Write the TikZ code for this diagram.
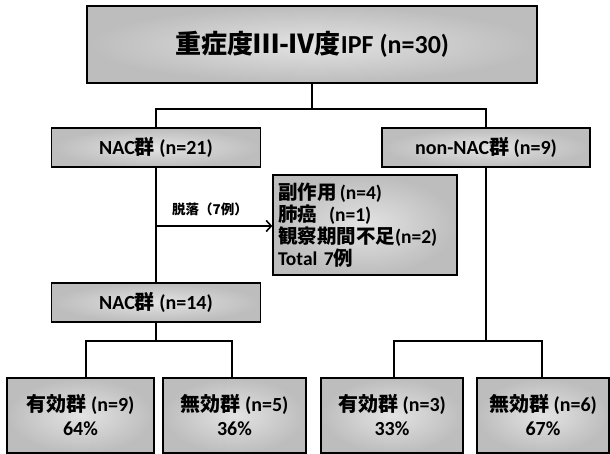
\documentclass[tikz,border=0pt]{standalone}
\usepackage{fontspec}
\setmainfont{Carlito}
\newfontfamily\jpf{Noto Sans CJK JP}
\newcommand\J[1]{{\jpf\bfseries #1}}
\usetikzlibrary{arrows.meta}
\begin{document}
\begin{tikzpicture}[x=1pt,y=-1pt,
  box/.style={draw=black, line width=1.4pt, shade, inner color=black!11, outer color=black!26,
    inner sep=0pt, align=center, font=\bfseries\fontsize{20}{24}\selectfont},
  conn/.style={draw=black, line width=1.4pt}]
\path[use as bounding box] (0,0) rectangle (610,454);

\node[box, minimum width=450, minimum height=77, font=\bfseries\fontsize{26}{30}\selectfont] (top) at (312,44.5) {\J{重症度Ⅲ-Ⅳ度}IPF (n=30)};
\node[box, minimum width=209, minimum height=39] (nac21) at (156,147.5) {NAC\J{群} (n=21)};
\node[box, minimum width=208, minimum height=39] (nonnac) at (486,147.5) {non-NAC\J{群} (n=9)};
\node[box, minimum height=100, text width=174, inner xsep=5pt, align=left,
  font=\bfseries\fontsize{19.5}{21.8}\selectfont] (side) at (365,225)
  {\J{副作用}\,(n=4)\\\J{肺癌}\hspace{12pt}(n=1)\\\J{観察期間不足}(n=2)\\Total 7\J{例}};
\node[box, minimum width=209, minimum height=39] (nac14) at (156,302.5) {NAC\J{群} (n=14)};

\node[box, minimum width=147, minimum height=75] (b1) at (80.5,415.5) {\J{有効群} (n=9)\\64\%};
\node[box, minimum width=143, minimum height=75] (b2) at (234.5,415.5) {\J{無効群} (n=5)\\36\%};
\node[box, minimum width=142, minimum height=75] (b3) at (392,415.5) {\J{有効群} (n=3)\\33\%};
\node[box, minimum width=132, minimum height=75] (b4) at (543,415.5) {\J{無効群} (n=6)\\67\%};

\coordinate (j1) at (312,109);
\coordinate (j2) at (156,341);
\coordinate (j3) at (486,341);
\coordinate (a1) at (156,226);

\draw[conn] (top.south) -- (j1);
\draw[conn] (nac21.north) |- (j1) -| (nonnac.north);
\draw[conn] (nac21.south) -- (nac14.north);
\draw[conn, -{Straight Barb[length=5pt,width=11pt,line width=1.6pt]}] (a1) -- (side.west |- a1);
\node[font=\fontsize{13.5}{15}\selectfont, anchor=south] (lab) at (210,219) {\J{脱落（7例）}};
\draw[conn] (nac14.south) -- (j2);
\draw[conn] ([xshift=5.5pt]b1.north) |- (j2) -| ([xshift=-2.5pt]b2.north);
\draw[conn] (nonnac.south) -- (j3);
\draw[conn] ([xshift=2pt]b3.north) |- (j3) -| ([xshift=-1pt]b4.north);
\end{tikzpicture}
\end{document}
